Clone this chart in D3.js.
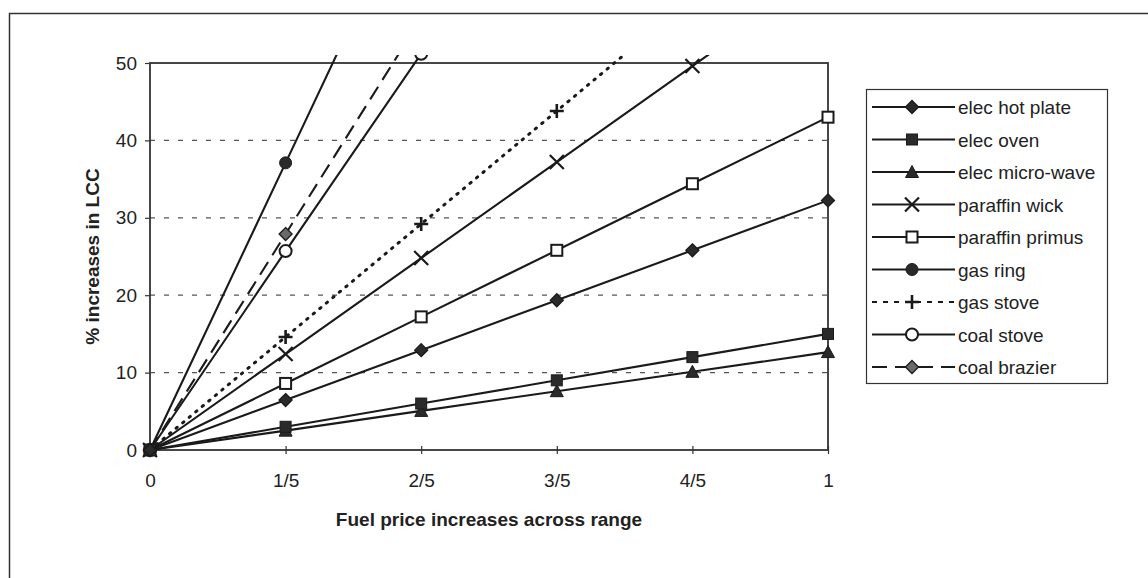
<!DOCTYPE html>
<html>
<head>
<meta charset="utf-8">
<script src="https://cdn.jsdelivr.net/npm/d3@7"></script>
<style>
  html, body { margin: 0; padding: 0; background: #fff; }
  svg { display: block; font-family: "Liberation Sans", Arial, sans-serif; }
</style>
</head>
<body>
<svg id="chart" width="1148" height="578"></svg>
<script>
// Share of fuel price range applied (0 .. full range)
const xSteps = [0, 0.2, 0.4, 0.6, 0.8, 1];
const xTickLabels = ["0", "1/5", "2/5", "3/5", "4/5", "1"];
const yTicks = [0, 10, 20, 30, 40, 50];

// % increase in life-cycle cost per appliance
const elecHotPlate    = [0, 6.45, 12.9, 19.35, 25.8, 32.25];
const elecOven        = [0, 3.0, 6.0, 9.0, 12.0, 15.0];
const elecMicroWave   = [0, 2.5, 5.05, 7.6, 10.1, 12.65];
const paraffinWick    = [0, 12.4, 24.8, 37.2, 49.6, 62.0];
const paraffinPrimus  = [0, 8.6, 17.2, 25.8, 34.4, 43.0];
const gasRing         = [0, 37.1, 74.2, 111.3, 148.4, 185.5];
const gasStove        = [0, 14.6, 29.2, 43.8, 58.4, 73.0];
const coalStove       = [0, 25.7, 51.2, 76.8, 102.4, 128.0];
const coalBrazier     = [0, 27.9, 55.8, 83.7, 111.6, 139.5];

const seriesNames = ["elec hot plate", "elec oven", "elec micro-wave", "paraffin wick",
  "paraffin primus", "gas ring", "gas stove", "coal stove", "coal brazier"];
const seriesValues = [elecHotPlate, elecOven, elecMicroWave, paraffinWick,
  paraffinPrimus, gasRing, gasStove, coalStove, coalBrazier];
const seriesMarkers = ["diamond", "square", "triangle", "x", "openSquare",
  "circle", "plus", "openCircle", "brazierDiamond"];
const seriesDash = [null, null, null, null, null, null, "1.5,7", null, "15,8"];

const ink = "#1a1a1a";
const svg = d3.select("#chart");

// Outer chart frame
svg.append("rect")
  .attr("x", 9.5).attr("y", 13.5)
  .attr("width", 1160).attr("height", 580)
  .attr("fill", "#fff").attr("stroke", "#333").attr("stroke-width", 1.5);

const plot = { left: 150, right: 828, top: 63, bottom: 450 };
const x = d3.scaleLinear().domain([0, 1]).range([plot.left, plot.right]);
const y = d3.scaleLinear().domain([0, 50]).range([plot.bottom, plot.top]);

// Dashed horizontal gridlines
svg.append("g").selectAll("line")
  .data(yTicks.filter(v => v > 0 && v < 50))
  .join("line")
  .attr("x1", plot.left).attr("x2", plot.right)
  .attr("y1", d => y(d)).attr("y2", d => y(d))
  .attr("stroke", "#555").attr("stroke-width", 1.2)
  .attr("stroke-dasharray", "5,9");

// Plot area border
svg.append("rect")
  .attr("x", plot.left).attr("y", plot.top)
  .attr("width", plot.right - plot.left).attr("height", plot.bottom - plot.top)
  .attr("fill", "none").attr("stroke", "#333").attr("stroke-width", 1.8);

// Y axis
const yAxis = d3.axisLeft(y).tickValues(yTicks).tickSize(5).tickPadding(8)
  .tickFormat(d3.format("d"));
const gy = svg.append("g").attr("transform", `translate(${plot.left},0)`).call(yAxis);
gy.select(".domain").remove();
gy.selectAll(".tick line").attr("stroke", "#333").attr("stroke-width", 1.2);
gy.selectAll(".tick text").attr("font-size", 19).attr("fill", "#222");

// X axis with ticks crossing the baseline
const xAxis = d3.axisBottom(x).tickValues(xSteps).tickSize(4).tickPadding(20)
  .tickFormat((d, i) => xTickLabels[i]);
const gx = svg.append("g").attr("transform", `translate(0,${plot.bottom})`).call(xAxis);
gx.select(".domain").remove();
gx.selectAll(".tick line").attr("y1", -4).attr("stroke", "#333").attr("stroke-width", 1.2);
gx.selectAll(".tick text").attr("font-size", 19).attr("fill", "#222");

// Axis titles
svg.append("text")
  .attr("x", (plot.left + plot.right) / 2).attr("y", 526)
  .attr("text-anchor", "middle").attr("font-size", 19).attr("font-weight", "bold")
  .attr("fill", "#222")
  .text("Fuel price increases across range");
svg.append("text")
  .attr("transform", `translate(99,${(plot.top + plot.bottom) / 2}) rotate(-90)`)
  .attr("text-anchor", "middle").attr("font-size", 19).attr("font-weight", "bold")
  .attr("fill", "#222")
  .text("% increases in LCC");

// Marker drawing
function drawMarker(g, type, cx, cy) {
  const s = 5.5;
  if (type === "diamond" || type === "brazierDiamond") {
    const r = 6.5;
    g.append("path")
      .attr("d", `M${cx},${cy - r}L${cx + r},${cy}L${cx},${cy + r}L${cx - r},${cy}Z`)
      .attr("fill", type === "diamond" ? "#2a2a2a" : "#6a6a6a")
      .attr("stroke", ink).attr("stroke-width", 1.3);
  } else if (type === "square") {
    g.append("rect").attr("x", cx - s).attr("y", cy - s)
      .attr("width", 2 * s).attr("height", 2 * s)
      .attr("fill", "#2a2a2a").attr("stroke", ink).attr("stroke-width", 1);
  } else if (type === "openSquare") {
    g.append("rect").attr("x", cx - s).attr("y", cy - s)
      .attr("width", 2 * s).attr("height", 2 * s)
      .attr("fill", "#fff").attr("stroke", ink).attr("stroke-width", 2);
  } else if (type === "triangle") {
    g.append("path")
      .attr("d", `M${cx},${cy - 6.5}L${cx + 6.5},${cy + 5.5}L${cx - 6.5},${cy + 5.5}Z`)
      .attr("fill", "#2a2a2a").attr("stroke", ink).attr("stroke-width", 1);
  } else if (type === "x") {
    const r = 7;
    g.append("path")
      .attr("d", `M${cx - r},${cy - r}L${cx + r},${cy + r}M${cx + r},${cy - r}L${cx - r},${cy + r}`)
      .attr("stroke", ink).attr("stroke-width", 2.2).attr("fill", "none");
  } else if (type === "plus") {
    const r = 7;
    g.append("path")
      .attr("d", `M${cx - r},${cy}L${cx + r},${cy}M${cx},${cy - r}L${cx},${cy + r}`)
      .attr("stroke", ink).attr("stroke-width", 2.6).attr("fill", "none");
  } else if (type === "circle") {
    g.append("circle").attr("cx", cx).attr("cy", cy).attr("r", 6)
      .attr("fill", "#2a2a2a").attr("stroke", ink).attr("stroke-width", 1);
  } else if (type === "openCircle") {
    g.append("circle").attr("cx", cx).attr("cy", cy).attr("r", 6)
      .attr("fill", "#fff").attr("stroke", ink).attr("stroke-width", 2);
  }
}

// Series lines and markers, clipped just above the plot area
svg.append("defs").append("clipPath").attr("id", "plotClip")
  .append("rect").attr("x", plot.left - 12).attr("y", 55)
  .attr("width", plot.right - plot.left + 24).attr("height", plot.bottom - 55 + 12);

const seriesLayer = svg.append("g").attr("clip-path", "url(#plotClip)");
const line = d3.line().x((d, i) => x(xSteps[i])).y(d => y(d));

// Lines first, in series order
seriesValues.forEach((vals, k) => {
  const dotted = seriesMarkers[k] === "plus";
  seriesLayer.append("path").datum(vals)
    .attr("d", line)
    .attr("fill", "none").attr("stroke", ink)
    .attr("stroke-width", dotted ? 3 : 2.1)
    .attr("stroke-linecap", dotted ? "round" : "butt")
    .attr("stroke-dasharray", seriesDash[k]);
});

// Markers on top, first series drawn last
const markerLayer = seriesLayer.append("g");
seriesValues.map((vals, k) => k).reverse().forEach(k => {
  seriesValues[k].forEach((v, i) => {
    if (v <= 52) drawMarker(markerLayer, seriesMarkers[k], x(xSteps[i]), y(v));
  });
});

// Legend
const legend = { left: 866, top: 89, right: 1107, bottom: 383 };
svg.append("rect")
  .attr("x", legend.left + 0.5).attr("y", legend.top + 0.5)
  .attr("width", legend.right - legend.left).attr("height", legend.bottom - legend.top)
  .attr("fill", "#fff").attr("stroke", "#333").attr("stroke-width", 1.2);

const legendDash = seriesDash.map((d, k) => seriesMarkers[k] === "plus" ? "5,6" : d);
const rowY = d3.scalePoint().domain(seriesNames).range([107, 367]);
seriesNames.forEach((name, k) => {
  const cy = rowY(name);
  const g = svg.append("g");
  g.append("line").attr("x1", 872).attr("x2", 955).attr("y1", cy).attr("y2", cy)
    .attr("stroke", ink).attr("stroke-width", 2.1)
    .attr("stroke-dasharray", legendDash[k]);
  drawMarker(g, seriesMarkers[k], 912, cy);
  g.append("text").attr("x", 958).attr("y", cy + 7)
    .attr("font-size", 19).attr("fill", "#222").text(name);
});
</script>
</body>
</html>
